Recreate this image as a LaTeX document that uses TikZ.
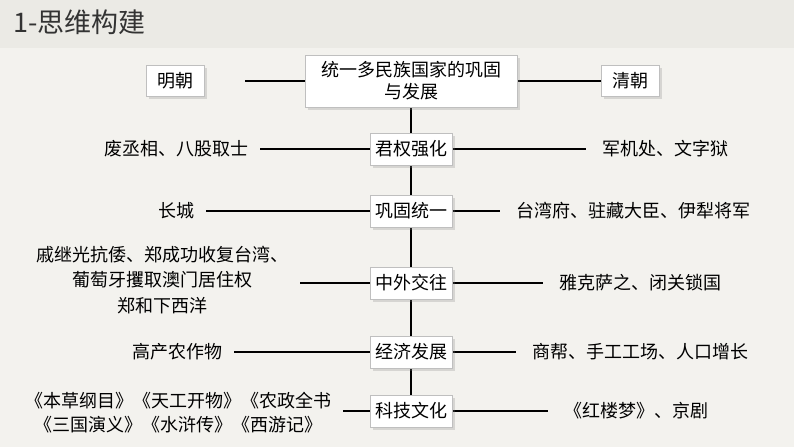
\documentclass[tikz,border=0pt]{standalone}
\usepackage{fontspec}
\setmainfont{Noto Sans CJK SC}
\usetikzlibrary{positioning,shadows,backgrounds}
\definecolor{bgpaper}{HTML}{F3F2EE}
\definecolor{bgtitle}{HTML}{EBEAE5}
\tikzset{
    mainbox/.style={draw=gray!50, fill=white, drop shadow={opacity=0.25}, inner sep=5pt, minimum height=32, font=\fontsize{18}{22}\selectfont, align=center},
    sidetext/.style={font=\fontsize{18}{22}\selectfont, align=center},
    link/.style={line width=1.3pt}
}
\begin{document}
\begin{tikzpicture}[x=1pt,y=-1pt]
        \useasboundingbox (0,0) rectangle (794,447);
        \node[anchor=west, font=\fontsize{27}{30}\selectfont, text=black!80] (title) at (10,22) {1-思维构建};

        %CENTRE
        \node[mainbox, minimum width=212, minimum height=52] (top) at (411,81) {统一多民族国家的巩固\\与发展};
        \node[mainbox, minimum width=58, minimum height=31] (ming) at (175,81) {明朝};
        \node[mainbox, minimum width=58, minimum height=31] (qing) at (630,81) {清朝};
        \node[mainbox] (s1) at (411,149) {君权强化};
        \node[mainbox] (s2) at (411,211) {巩固统一};
        \node[mainbox] (s3) at (411,283) {中外交往};
        \node[mainbox] (s4) at (411,352) {经济发展};
        \node[mainbox] (s5) at (411,411) {科技文化};

        %SIDES
        \node[sidetext] (l1) at (176,149) {废丞相、八股取士};
        \node[sidetext] (r1) at (665,149) {军机处、文字狱};
        \node[sidetext] (l2) at (176,211) {长城};
        \node[sidetext] (r2) at (633,211) {台湾府、驻藏大臣、伊犁将军};
        \node[sidetext, font=\fontsize{18}{25.5}\selectfont] (l3) at (162,280) {戚继光抗倭、郑成功收复台湾、\\葡萄牙攫取澳门居住权\\郑和下西洋};
        \node[sidetext] (r3) at (640,283) {雅克萨之、闭关锁国};
        \node[sidetext] (l4) at (177,352) {高产农作物};
        \node[sidetext] (r4) at (640,352) {商帮、手工工场、人口增长};
        \node[sidetext, font=\fontsize{18}{24}\selectfont] (l5) at (178,413) {《本草纲目》《天工开物》《农政全书\\《三国演义》《水浒传》《西游记》};
        \node[sidetext] (r5) at (636,411) {《红楼梦》、京剧};

        %LINES
        \begin{scope}[on background layer]
            \fill[bgpaper] (0,0) rectangle (794,447);
            \fill[bgtitle] (0,0) rectangle (794,48);
            \draw[link] (top.south) -- (s5.north);
            \draw[link] (top.west) -- ([xshift=41pt]ming.east);
            \draw[link] (top.east) -- (qing.west);
            \foreach \i in {1,...,5}{
                \draw[link] (s\i.west) -- ([xshift=8pt]l\i.east |- s\i.west);
                \draw[link] (s\i.east) -- ([xshift=-12pt]r\i.west |- s\i.east);
            }
        \end{scope}
    \end{tikzpicture}
\end{document}
